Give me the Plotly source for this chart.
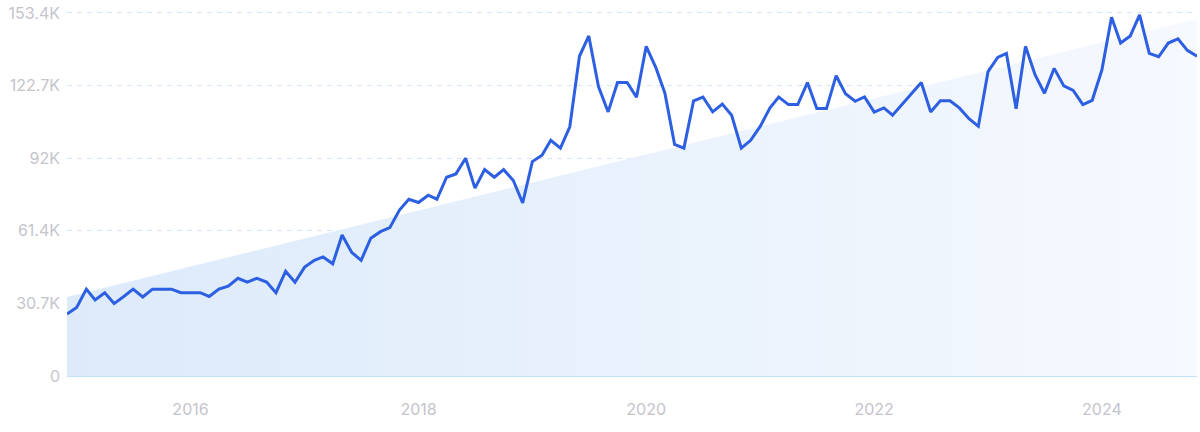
import pandas as pd
import plotly.graph_objects as go

# monthly values, in thousands (Dec 2014 .. Nov 2024)
months = pd.date_range('2014-12-01', periods=120, freq='MS')
values = [
    26.2, 29.0, 36.7, 32.1, 35.2, 30.6, 33.6, 36.7, 33.4, 36.7, 36.7, 36.7,
    35.2, 35.2, 35.2, 33.6, 36.7, 38.0, 41.3, 39.7, 41.3, 39.7, 35.2, 44.3,
    39.6, 46.0, 48.9, 50.3, 47.4, 59.6, 52.2, 48.9, 58.2, 61.0, 62.7, 70.1,
    74.7, 73.3, 76.4, 74.7, 84.0, 85.4, 92.0, 79.4, 87.2, 84.0, 87.2, 82.6,
    73.1, 90.6, 93.3, 99.6, 96.3, 105.3, 135.1, 143.7, 122.3, 111.6, 124.0, 124.0,
    117.8, 139.3, 130.3, 119.5, 97.9, 96.3, 116.3, 117.9, 111.6, 114.9, 110.2, 96.3,
    99.6, 105.6, 113.3, 117.9, 114.7, 114.7, 124.0, 113.0, 113.0, 126.9, 119.3, 116.1,
    117.9, 111.5, 113.3, 110.2, 114.7, 119.3, 124.0, 111.6, 116.3, 116.3, 113.3, 108.7,
    105.5, 128.6, 134.6, 136.3, 112.9, 139.3, 127.2, 119.5, 130.0, 122.6, 120.7, 114.7,
    116.5, 129.3, 151.6, 140.7, 143.7, 152.6, 136.3, 134.9, 140.7, 142.5, 137.6, 135.1,
]

# trend band end points (thousands)
trend_start = 33.4
trend_end = 150.9

y_ticks = [0, 30.7, 61.4, 92.0, 122.7, 153.4]
y_labels = ['0', '30.7K', '61.4K', '92K', '122.7K', '153.4K']
x_ticks = ['2016-01-01', '2018-01-01', '2020-01-01', '2022-01-01', '2024-01-01']
x_labels = ['2016', '2018', '2020', '2022', '2024']

fig = go.Figure()

fig.add_trace(go.Scatter(
    x=[months[0], months[-1]],
    y=[trend_start, trend_end],
    mode='lines',
    line=dict(width=0),
    fill='tozeroy',
    fillgradient=dict(
        type='horizontal',
        colorscale=[[0, '#dceafa'], [1, '#f6f9fe']],
    ),
    hoverinfo='skip',
    showlegend=False,
))

fig.add_trace(go.Scatter(
    x=months,
    y=values,
    mode='lines',
    line=dict(color='#2d5fe2', width=3),
    showlegend=False,
))

fig.update_layout(
    width=1200,
    height=432,
    margin=dict(l=67, r=3, t=7, b=56),
    plot_bgcolor='white',
    paper_bgcolor='white',
    font=dict(family='Inter', size=16, color='#c4c4cc'),
)

fig.update_xaxes(
    range=[months[0], months[-1]],
    tickvals=x_ticks,
    ticktext=x_labels,
    showgrid=False,
    zeroline=False,
    showline=False,
    ticks='',
    ticklabelstandoff=22,
)

fig.update_yaxes(
    range=[0, 154.24],
    tickvals=y_ticks,
    ticktext=y_labels,
    showgrid=True,
    gridcolor='#d5e6fb',
    griddash='5px,5px',
    gridwidth=1,
    zeroline=True,
    zerolinecolor='#c3e2f8',
    zerolinewidth=1,
    showline=False,
    ticks='',
    ticklabelstandoff=6,
    ticklabeloverflow='allow',
)

fig.write_html('out.html', config={'displayModeBar': False},
               post_script="document.body.style.margin='0';")
